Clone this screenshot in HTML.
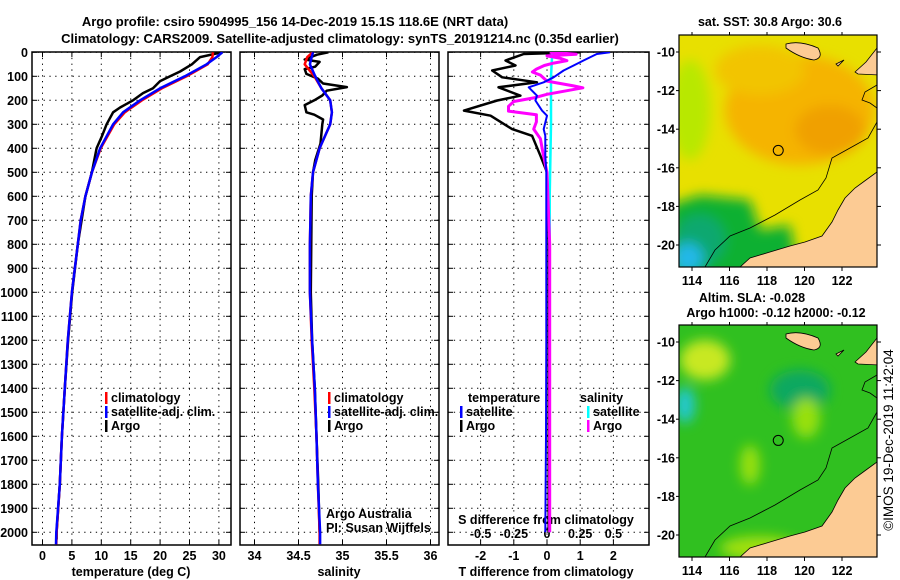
<!DOCTYPE html>
<html><head><meta charset="utf-8"><style>
html,body{margin:0;padding:0;background:#fff;}
svg{display:block;font-family:"Liberation Sans",sans-serif;}
.b{font-weight:bold;font-size:13px;}
.t{font-weight:bold;font-size:12.5px;}
</style></head><body>
<svg id="fig" width="900" height="580" viewBox="0 0 900 580" xmlns="http://www.w3.org/2000/svg">
<defs>
<filter id="blur6" x="-20%" y="-20%" width="140%" height="140%"><feGaussianBlur stdDeviation="6"/></filter>
<clipPath id="clipT"><rect x="679" y="35" width="198" height="232"/></clipPath>
<clipPath id="clipB"><rect x="679" y="325" width="198" height="232"/></clipPath>
<clipPath id="cp1"><rect x="32" y="52" width="199" height="493"/></clipPath>
<clipPath id="cp2"><rect x="240" y="52" width="199" height="493"/></clipPath>
<clipPath id="cp3"><rect x="448" y="52" width="201" height="493"/></clipPath>
</defs>
<text class="b" x="295" y="26" text-anchor="middle">Argo profile: csiro 5904995_156 14-Dec-2019 15.1S 118.6E (NRT data)</text>
<text class="b" x="340" y="43" text-anchor="middle">Climatology: CARS2009. Satellite-adjusted climatology: synTS_20191214.nc (0.35d earlier)</text>
<g id="plots"></g>
<g id="maps"></g>
<text x="893" y="440" font-size="13.5" text-anchor="middle" transform="rotate(-90 893 440)">©IMOS 19-Dec-2019 11:42:04</text>
</svg>
<script>
// ---- data ----
const depthTicks = [0,100,200,300,400,500,600,700,800,900,1000,1100,1200,1300,1400,1500,1600,1700,1800,1900,2000];
const tempTicks = [0,5,10,15,20,25,30];
const salTicks = [34,34.5,35,35.5,36];
const tdiffTicks = [-2,-1,0,1,2];
const sdiffTicks = [-0.5,-0.25,0,0.25,0.5];

const climDepth = [0,20,50,100,150,200,250,300,400,500,600,700,800,1000,1200,1400,1600,1800,2000,2050];
const climTemp  = [29.0,28.9,28.1,24.5,20.3,16.9,14.0,12.2,9.9,8.4,7.3,6.5,6.0,5.0,4.3,3.8,3.3,2.95,2.4,2.35];
const satTemp   = [30.6,29.6,27.9,24.2,20.0,16.6,13.7,12.0,9.8,8.4,7.3,6.5,6.0,5.0,4.3,3.8,3.3,2.95,2.35,2.3];
const argoDepth = [0,20,50,80,100,120,150,170,200,230,250,300,350,400,500,600,800,1000,1200,1400,1600,1800,2000,2030];
const argoTemp  = [30.5,26.8,25.4,23.4,21.7,20.0,18.8,17.1,15.4,13.2,12.0,10.9,10.1,9.2,8.4,7.3,6.0,5.05,4.35,3.8,3.3,2.95,2.4,2.4];

const climSal = [34.66,34.6,34.57,34.68,34.76,34.86,34.88,34.86,34.74,34.665,34.64,34.635,34.63,34.63,34.65,34.68,34.705,34.72,34.74,34.74];
const satSal  = [34.665,34.65,34.63,34.69,34.76,34.86,34.88,34.86,34.74,34.665,34.64,34.635,34.63,34.63,34.655,34.685,34.705,34.72,34.745,34.745];
const argoSalDepth = [0,10,20,30,40,60,70,90,110,130,145,160,180,200,220,250,260,280,300,380,450,500,600,1000,1200,1400,1600,1800,2000];
const argoSal = [34.84,34.71,34.64,34.57,34.74,34.69,34.57,34.59,34.72,34.78,35.05,34.82,34.77,34.68,34.57,34.59,34.68,34.78,34.77,34.75,34.69,34.665,34.65,34.64,34.655,34.685,34.705,34.725,34.74];

const tdDepth = [0,7,34,55,76,104,125,146,181,201,243,264,320,348,431,500,800,1200,1600,2000];
const tdArgo  = [1.0,-0.7,-1.25,-0.95,-1.65,-1.35,-0.3,-1.46,-0.8,-1.5,-2.5,-1.7,-1.05,-0.45,-0.2,0.0,0.05,0.05,0.05,0.05];
const tdSat   = [1.9,1.5,1.1,0.8,0.5,0.2,-0.1,-0.55,-0.3,-0.35,-0.15,0.0,-0.1,-0.05,-0.05,-0.02,-0.02,-0.02,-0.03,-0.05];
const sdDepth = [0,8,15,25,35,45,55,70,82,95,120,140,148,160,175,190,205,225,245,260,290,320,360,420,500,800,1200,1600,2000];
const sdArgo  = [0.02,0.22,0.0,0.1,0.15,0.05,-0.02,-0.08,-0.11,-0.05,0.0,0.2,0.27,0.15,0.0,-0.1,-0.25,-0.29,-0.29,-0.08,-0.08,-0.1,-0.05,-0.03,0.0,0.02,0.02,0.02,0.02];
const sdSatDepth = [0,100,300,600,1000,1500,2000];
const sdSat   = [0.04,0.03,0.03,0.02,0.02,0.02,0.02];

const lonTicks = [114,116,118,120,122];
const latTicks = [-10,-12,-14,-16,-18,-20];

// ---- helpers ----
const NS='http://www.w3.org/2000/svg';
function mk(tag, attrs, parent){const e=document.createElementNS(NS,tag);for(const k in attrs)e.setAttribute(k,attrs[k]);parent.appendChild(e);return e;}
const yD = d => 52.3 + d*0.24;
const xT = t => 42.5 + t*5.88;
const xS = s => 254.5 + (s-34)*88;
const xTD = v => 547 + v*33.2;
const xSD = v => 547 + v*132.8;
const plots = document.getElementById('plots');

function frame(x0,x1,xticks,xf,name){
  const g=mk('g',{},plots);
  
  
  depthTicks.forEach(d=>{
    const l=mk('line',{x1:x0,x2:x1,y1:yD(d),y2:yD(d),stroke:'#000','stroke-width':1,'stroke-dasharray':'1.3 4.5'},g);
    
    
    mk('line',{x1:x0,x2:x0+5,y1:yD(d),y2:yD(d),stroke:'#000'},g);
    mk('line',{x1:x1-5,x2:x1,y1:yD(d),y2:yD(d),stroke:'#000'},g);
  });
  xticks.forEach(v=>{
    const l=mk('line',{x1:xf(v),x2:xf(v),y1:52,y2:545,stroke:'#000','stroke-width':1,'stroke-dasharray':'1.3 4.5'},g);
    
    
    mk('line',{x1:xf(v),x2:xf(v),y1:545,y2:540,stroke:'#000'},g);
    mk('line',{x1:xf(v),x2:xf(v),y1:52,y2:57,stroke:'#000'},g);
  });
  mk('rect',{x:x0,y:52,width:x1-x0,height:493,fill:'none',stroke:'#000','stroke-width':1.5},g);
  return g;
}
function line(xs,ds,xf,color,w,clip,name){
  const pts=xs.map((v,i)=>xf(v).toFixed(1)+','+yD(ds[i]).toFixed(1)).join(' ');
  const p=mk('polyline',{points:pts,fill:'none',stroke:color,'stroke-width':w,'stroke-linejoin':'round','clip-path':'url(#'+clip+')'},plots);
  
  
}
function txt(x,y,s,cls,anchor,name,extra){
  const t=mk('text',Object.assign({x:x,y:y,'text-anchor':anchor||'start',class:cls||'t'},extra||{}),plots);
  t.textContent=s;
  
  
  return t;
}
function legend(x,y,color,label,name){
  mk('rect',{x:x,y:y-10,width:2.5,height:12,fill:color},plots);
  txt(x+6,y,label,'t','start',name);
}

// panel 1 temperature
frame(32,231,tempTicks,xT,'temperature-panel');
depthTicks.forEach(d=>txt(28,yD(d)+4.5,String(d),'t','end','depth-tick-label'));
tempTicks.forEach(v=>txt(xT(v),560,String(v),'t','middle','temp-tick-label'));
txt(131,576,'temperature (deg C)','t','middle','temperature-axis-title');
line(argoTemp,argoDepth,xT,'#000',2.5,'cp1','argo-temp-line');
line(climTemp,climDepth,xT,'#f00',2.5,'cp1','clim-temp-line');
line(satTemp,climDepth,xT,'#00f',2.5,'cp1','sat-temp-line');
legend(105,402,'#f00','climatology','legend-climatology');
legend(105,416,'#00f','satellite-adj. clim.','legend-satellite');
legend(105,430,'#000','Argo','legend-argo');

// panel 2 salinity
frame(240,439,salTicks,xS,'salinity-panel');
salTicks.forEach(v=>txt(xS(v),560,String(v),'t','middle','sal-tick-label'));
txt(339,576,'salinity','t','middle','salinity-axis-title');
line(argoSal,argoSalDepth,xS,'#000',2.5,'cp2','argo-sal-line');
line(climSal,climDepth,xS,'#f00',2.5,'cp2','clim-sal-line');
line(satSal,climDepth,xS,'#00f',2.5,'cp2','sat-sal-line');
legend(328,402,'#f00','climatology','legend-sal-climatology');
legend(328,416,'#00f','satellite-adj. clim.','legend-sal-satellite');
legend(328,430,'#000','Argo','legend-sal-argo');
txt(326,518,'Argo Australia','','start','credit-line-1',{'font-size':'12'});
txt(326,532,'PI: Susan Wijffels','','start','credit-line-2',{'font-size':'12'});

// panel 3 diff
frame(448,649,tdiffTicks,xTD,'difference-panel');
tdiffTicks.forEach(v=>txt(xTD(v),560,String(v),'t','middle','tdiff-tick-label'));
sdiffTicks.forEach(v=>txt(xSD(v),538,String(v),'t','middle','sdiff-tick-label'));
txt(546,524,'S difference from climatology','t','middle','sdiff-axis-title');
txt(546,576,'T difference from climatology','t','middle','tdiff-axis-title');
line(tdArgo,tdDepth,xTD,'#000',2.5,'cp3','argo-tdiff-line');
line(sdSat,sdSatDepth,xSD,'#0ff',2.5,'cp3','sat-sdiff-line');
line(sdArgo,sdDepth,xSD,'#f0f',3,'cp3','argo-sdiff-line');
line(tdSat,tdDepth,xTD,'#00f',2,'cp3','sat-tdiff-line');
txt(468,402,'temperature','t','start','legend-temperature-header');
legend(460,416,'#00f','satellite','legend-tdiff-satellite');
legend(460,430,'#000','Argo','legend-tdiff-argo');
txt(580,402,'salinity','t','start','legend-salinity-header');
legend(587,416,'#0ff','satellite','legend-sdiff-satellite');
legend(587,430,'#f0f','Argo','legend-sdiff-argo');

// ---- maps ----
const maps=document.getElementById('maps');
const xL = lon => 692 + (lon-114)*18.75;
function drawMap(off,clip,kind,name){
  const yL = lat => 52 + off + (-10-lat)*19.3;
  const g=mk('g',{'clip-path':'url(#'+clip+')'},maps);
  
  
  const top=35+off;
  if(kind==='sst'){
    mk('rect',{x:679,y:top,width:198,height:232,fill:'#e8e000'},g);
    const b=mk('g',{filter:'url(#blur6)'},g);
    mk('ellipse',{cx:800,cy:110+off,rx:75,ry:55,fill:'#f5b400'},b);
    mk('ellipse',{cx:830,cy:130+off,rx:35,ry:25,fill:'#f0a000'},b);
    mk('ellipse',{cx:760,cy:70+off,rx:45,ry:25,fill:'#f2c400'},b);
    mk('ellipse',{cx:690,cy:110+off,rx:20,ry:50,fill:'#b8e800'},b);
    mk('path',{d:'M670 205 L700 195 L750 200 L760 230 L790 225 L800 280 L670 280 Z',fill:'#10b030'},b);
    mk('ellipse',{cx:700,cy:240+off,rx:25,ry:25,fill:'#10a870'},b);
    mk('ellipse',{cx:688,cy:258+off,rx:15,ry:15,fill:'#20b8e8'},b);
  } else {
    mk('rect',{x:679,y:top,width:198,height:232,fill:'#30c020'},g);
    const b=mk('g',{filter:'url(#blur6)'},g);
    mk('ellipse',{cx:705,cy:70+off,rx:25,ry:20,fill:'#c8e820'},b);
    mk('ellipse',{cx:800,cy:100+off,rx:30,ry:20,fill:'#10a860'},b);
    mk('ellipse',{cx:685,cy:115+off,rx:10,ry:18,fill:'#20c8d0'},b);
    mk('ellipse',{cx:806,cy:128+off,rx:14,ry:20,fill:'#98e010'},b);
    mk('ellipse',{cx:750,cy:175+off,rx:10,ry:20,fill:'#98e010'},b);
    mk('ellipse',{cx:760,cy:258+off,rx:40,ry:12,fill:'#a0e010'},b);
  }
  const land='M740 '+(267+off)+' L750 '+(258+off)+' L770 '+(252+off)+' L790 '+(246+off)+' L805 '+(242+off)+' L822 '+(236+off)+' L832 '+(222+off)+' L838 '+(210+off)+' L845 '+(198+off)+' L855 '+(188+off)+' L866 '+(180+off)+' L877 '+(172+off)+' L880 '+(272+off)+' L740 '+(272+off)+' Z';
  mk('path',{d:land,fill:'#fccb94',stroke:'#000','stroke-width':0.8},g);
  mk('path',{d:'M786 '+(44+off)+' Q800 '+(40+off)+' 818 '+(48+off)+' Q824 '+(58+off)+' 814 '+(60+off)+' Q800 '+(58+off)+' 786 '+(48+off)+' Z',fill:'#fccb94',stroke:'#000','stroke-width':0.8},g);
  mk('path',{d:'M836 '+(64+off)+' L844 '+(60+off)+' L838 '+(66+off)+' Z',fill:'#fccb94',stroke:'#000','stroke-width':0.8},g);
  mk('path',{d:'M855 '+(72+off)+' L866 '+(62+off)+' L877 '+(48+off)+' L880 '+(75+off)+' L858 '+(74+off)+' Z',fill:'#fccb94',stroke:'#000','stroke-width':0.8},g);
  mk('polyline',{points:'705,'+(267+off)+' 715,'+(250+off)+' 730,'+(236+off)+' 750,'+(228+off)+' 775,'+(215+off)+' 800,'+(200+off)+' 818,'+(190+off)+' 826,'+(178+off)+' 832,'+(158+off)+' 850,'+(148+off)+' 868,'+(138+off)+' 877,'+(122+off),fill:'none',stroke:'#000','stroke-width':0.8},g);
  mk('polyline',{points:'877,'+(85+off)+' 865,'+(92+off)+' 862,'+(100+off)+' 870,'+(103+off)+' 877,'+(108+off),fill:'none',stroke:'#000','stroke-width':0.8},g);
  mk('circle',{cx:xL(118.6),cy:yL(-15.1),r:5,fill:'none',stroke:'#000','stroke-width':1},g);
  mk('rect',{x:679,y:top,width:198,height:232,fill:'none',stroke:'#000','stroke-width':1.2},maps);
  lonTicks.forEach(v=>{
    mk('line',{x1:xL(v),x2:xL(v),y1:top,y2:top-3,stroke:'#000'},maps);
    mk('line',{x1:xL(v),x2:xL(v),y1:top+232,y2:top+236,stroke:'#000'},maps);
    const t=mk('text',{x:xL(v),y:top+250,'text-anchor':'middle',class:'t'},maps);t.textContent=String(v);
    
    
  });
  latTicks.forEach(v=>{
    mk('line',{x1:679,x2:676,y1:yL(v),y2:yL(v),stroke:'#000'},maps);
    mk('line',{x1:877,x2:881,y1:yL(v),y2:yL(v),stroke:'#000'},maps);
    const t=mk('text',{x:675,y:yL(v)+4.5,'text-anchor':'end',class:'t'},maps);t.textContent=String(v);
    
    
  });
}
drawMap(0,'clipT','sst','sst-map');
drawMap(290,'clipB','sla','sla-map');
function mt(x,y,s,name){const t=mk('text',{x:x,y:y,'text-anchor':'middle',class:'t'},maps);t.textContent=s;
  
  }
mt(770,26,'sat. SST: 30.8 Argo: 30.6','sst-map-title');
mt(752,302,'Altim. SLA: -0.028','sla-map-title');
mt(776,317,'Argo h1000: -0.12 h2000: -0.12','argo-height-title');
</script>
</body></html>
